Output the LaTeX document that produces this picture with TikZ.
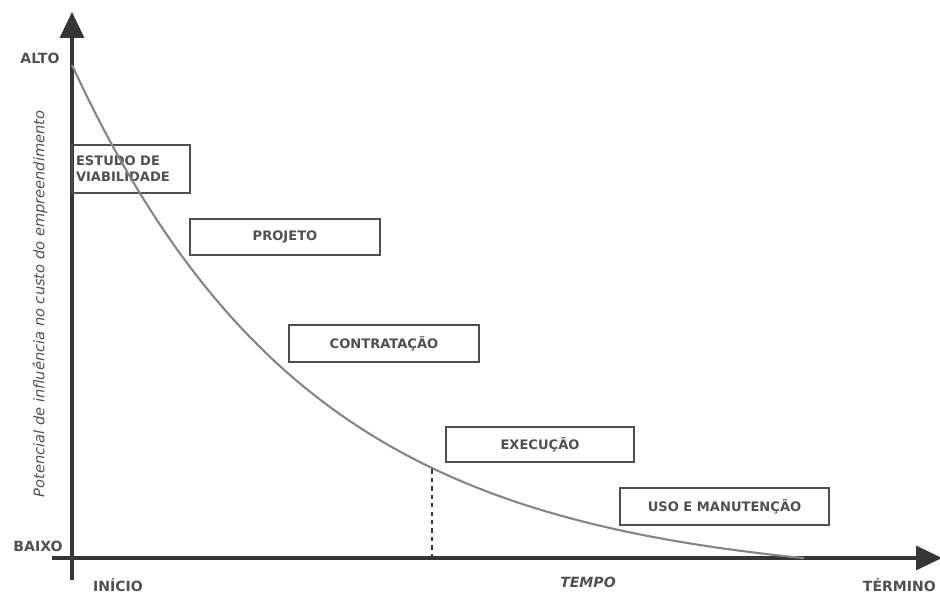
\documentclass[tikz,border=0pt]{standalone}
\usepackage{fontspec}
\setmainfont{DejaVu Sans}
\usetikzlibrary{arrows.meta}
\definecolor{axisgray}{HTML}{363636}
\definecolor{curvegray}{HTML}{858585}
\definecolor{boxgray}{HTML}{4E4E4E}
\definecolor{textgray}{HTML}{505050}

\begin{document}
\begin{tikzpicture}[x=1cm, y=1cm,
    axis/.style={draw=axisgray, line width=2.4pt, -{Triangle[length=0.65cm, width=0.6cm]}},
    phase/.style={draw=boxgray, line width=1.3pt, text=textgray, inner sep=0.1cm,
      font=\bfseries\fontsize{9.3}{11.5}\selectfont},
    level/.style={text=textgray, font=\bfseries\fontsize{10}{12}\selectfont},
    tick/.style={text=textgray, font=\bfseries\fontsize{10}{12}\selectfont}]
  \useasboundingbox (-1.8, -0.9) rectangle (21.7, 13.95);
  % eixos
  \coordinate (xstart) at (-0.5, 0);
  \coordinate (xend) at (21.75, 0);
  \coordinate (ystart) at (0, -0.55);
  \coordinate (yend) at (0, 13.65);
  \draw[axis] (xstart) -- (xend);
  \draw[axis] (ystart) -- (yend);
  \node[level] (alto) at (-0.8, 12.5) {ALTO};
  \node[level] (baixo) at (-0.85, 0.3) {BAIXO};
  \node[tick] (inicio) at (1.15, -0.675) {INÍCIO};
  \node[tick, font=\bfseries\itshape\fontsize{10}{12}\selectfont] (tempo) at (12.9, -0.6) {TEMPO};
  \node[tick, anchor=west] (termino) at (19.65, -0.675) {TÉRMINO};
  \node[text=textgray, rotate=90, font=\itshape\fontsize{10.4}{12}\selectfont] (ylabel) at (-0.8, 6.35)
    {Potencial de influência no custo do empreendimento};
  % fases
  \node[phase, minimum width=2.95cm, minimum height=1.2cm, text width=2.75cm, align=left] (estudo)
    at (1.475, 9.725) {ESTUDO DE\\VIABILIDADE};
  \node[phase, minimum width=4.75cm, minimum height=0.9cm] (projeto) at (5.325, 8.025) {PROJETO};
  \node[phase, minimum width=4.75cm, minimum height=0.925cm] (contratacao) at (7.8, 5.3625) {CONTRATAÇÃO};
  \node[phase, minimum width=4.7cm, minimum height=0.875cm] (execucao) at (11.7, 2.8375) {EXECUÇÃO};
  \node[phase, minimum width=5.225cm, minimum height=0.925cm] (uso) at (16.3125, 1.2875) {USO E MANUTENÇÃO};
  % curva
  \draw[curvegray, line width=1.5pt, domain=0:18.3, samples=120, smooth, variable=\x]
    plot ({\x}, {12.925*exp(-0.168*\x) - 0.6});
  \coordinate (cutbase) at (9, 0);
  \coordinate (cut) at (9, {12.925*exp(-0.168*9) - 0.6});
  \draw[axisgray, dashed, line width=1pt] (cutbase) -- (cut);
\end{tikzpicture}
\end{document}
